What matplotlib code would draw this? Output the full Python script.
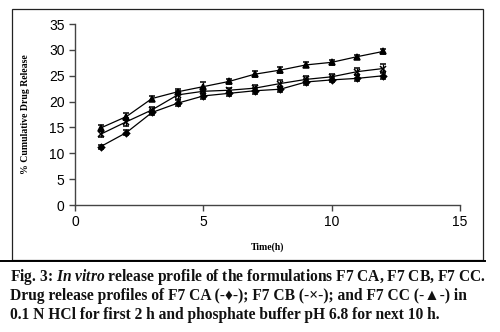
import numpy as np
import matplotlib.pyplot as plt
from matplotlib.patches import Rectangle
from matplotlib.lines import Line2D

# Release data (% cumulative drug release vs time in hours)
time_h = [1, 2, 3, 4, 5, 6, 7, 8, 9, 10, 11, 12]
f7_ca = [11.3, 14.0, 17.9, 19.7, 21.1, 21.6, 22.1, 22.4, 23.8, 24.2, 24.5, 25.0]
f7_cb = [13.7, 16.1, 18.4, 21.3, 22.0, 22.2, 22.6, 23.5, 24.3, 24.8, 25.8, 26.4]
f7_cc = [14.9, 17.1, 20.6, 21.9, 22.9, 23.9, 25.3, 26.1, 27.1, 27.6, 28.7, 29.7]
err_ca = [0.4, 0.5, 0.5, 0.6, 0.6, 0.5, 0.6, 0.5, 0.6, 0.5, 0.6, 0.7]
err_cb = [0.6, 0.8, 0.6, 0.7, 0.6, 0.5, 0.6, 0.6, 0.7, 0.6, 0.7, 0.8]
err_cc = [0.5, 0.7, 0.5, 0.5, 0.8, 0.4, 0.6, 0.6, 0.5, 0.5, 0.4, 0.4]

plt.rcParams['mathtext.fontset'] = 'custom'
plt.rcParams['mathtext.it'] = 'Liberation Serif:italic:bold'
plt.rcParams['mathtext.rm'] = 'Liberation Serif:bold'

fig = plt.figure(figsize=(5.0, 3.32), dpi=100)
ax = fig.add_axes([0.15, 0.3825, 0.77, 0.545])

series = [(f7_ca, err_ca, 'D', 3.2), (f7_cb, err_cb, 'x', 4.2), (f7_cc, err_cc, '^', 4.2)]
for y, e, m, ms in series:
    ax.errorbar(time_h, y, yerr=e, color='black', lw=0.9, marker=m, ms=ms,
                mew=1.1, elinewidth=0.9, capsize=2.5, capthick=0.9)

ax.set_xlim(0, 15)
ax.set_ylim(0, 35)
ax.set_xticks([0, 5, 10, 15])
ax.set_yticks(range(0, 36, 5))
for s in ['top', 'right']:
    ax.spines[s].set_visible(False)
for s in ['left', 'bottom']:
    ax.spines[s].set_color('#444444')
    ax.spines[s].set_linewidth(1.0)
ax.tick_params(colors='#444444', length=4, width=1.0, labelcolor='black',
               labelsize=10)
for lab in ax.get_xticklabels() + ax.get_yticklabels():
    lab.set_family('Liberation Sans')

ax.set_xlabel('Time(h)', family='Liberation Serif', weight='bold', fontsize=7,
              labelpad=9)
ax.set_ylabel('% Cumulative Drug Release', family='Liberation Serif',
              weight='bold', fontsize=7, labelpad=14)

# outer frame and separator
fig.patches.append(Rectangle((12 / 500, 1 - 260 / 332), 471 / 500, 251 / 332,
                             transform=fig.transFigure, fill=False,
                             edgecolor='#222222', lw=0.9))
fig.lines.append(Line2D([0, 485 / 500], [1 - 260.5 / 332] * 2,
                        transform=fig.transFigure, color='black', lw=1.4))

cap_kw = dict(family='Liberation Serif', fontsize=11.2, weight='bold',
              color='#111111', va='baseline')
fig.text(10 / 500, 1 - 281 / 332,
         r'Fig. 3: $\mathit{In\ vitro}$ release profile of the formulations F7 CA, F7 CB, F7 CC.',
         **cap_kw)
fig.text(10 / 500, 1 - 300 / 332,
         'Drug release profiles of F7 CA (-\u2666-); F7 CB (-\u00d7-); and F7 CC (-\u25b2-) in',
         **cap_kw)
fig.text(10 / 500, 1 - 319 / 332,
         '0.1 N HCl for first 2 h and phosphate buffer pH 6.8 for next 10 h.',
         **cap_kw)

fig.savefig('out.png', dpi=100)
